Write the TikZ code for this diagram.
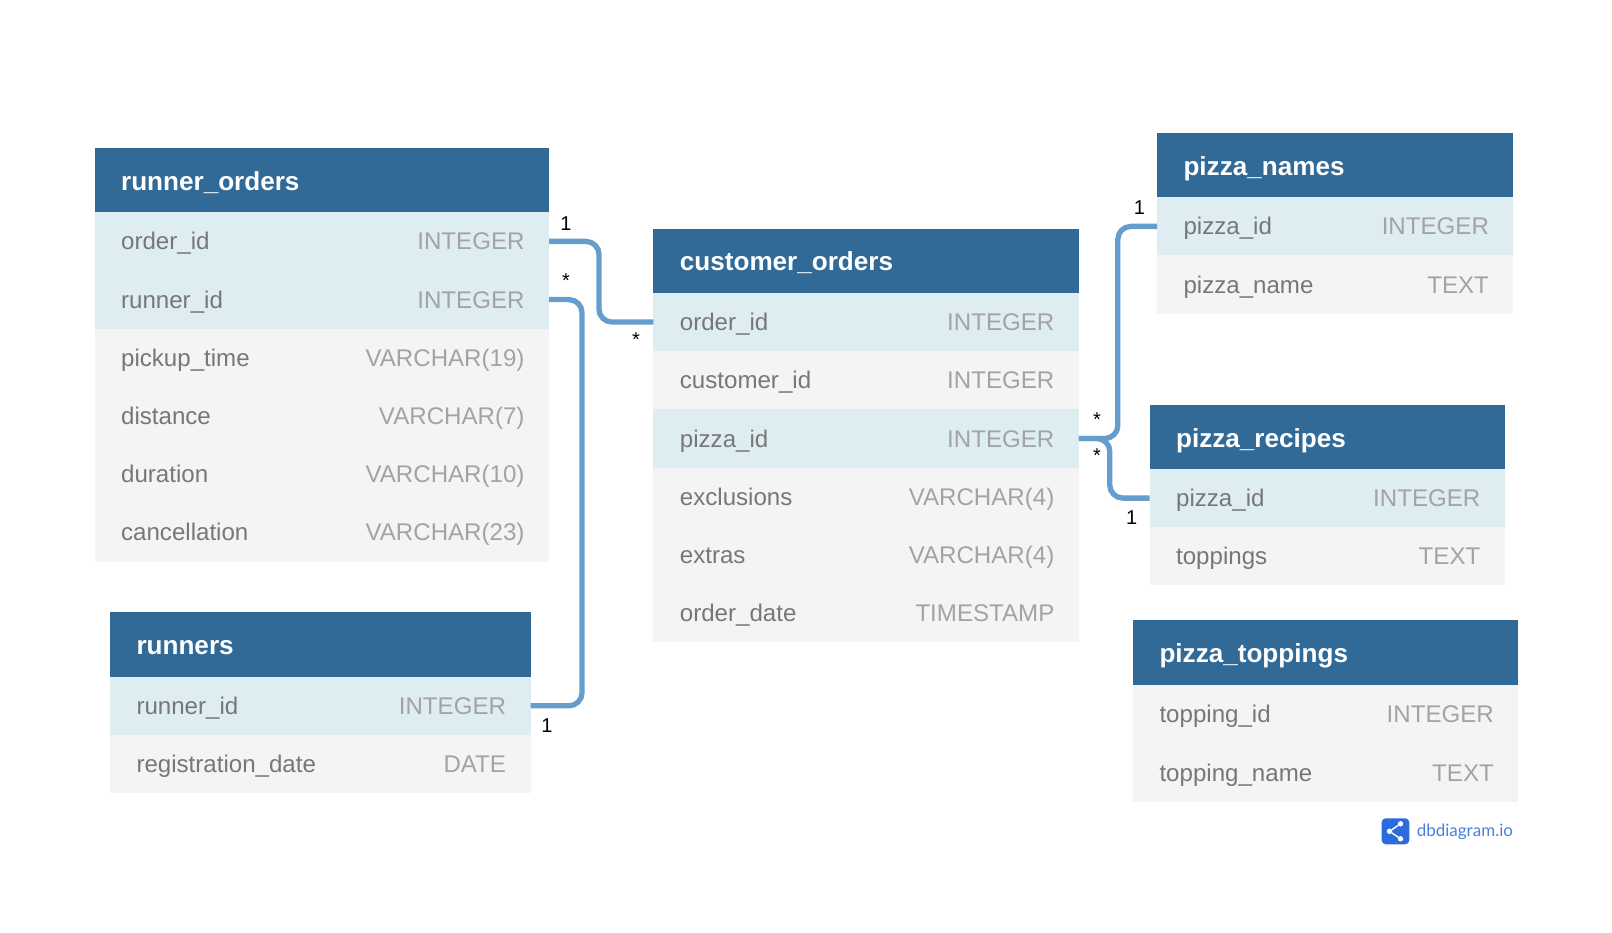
\documentclass[tikz,border=0pt]{standalone}
\usepackage{fontspec}
\setmainfont{Liberation Sans}
\newfontfamily\logofont{Lato}
\usetikzlibrary{positioning}
\definecolor{headblue}{HTML}{326A97}
\definecolor{keyblue}{HTML}{DEEDF2}
\definecolor{plaingrey}{HTML}{F4F4F4}
\definecolor{namegrey}{HTML}{777777}
\definecolor{typegrey}{HTML}{A3A3A3}
\definecolor{linkblue}{HTML}{659DCD}
\definecolor{logoblue}{HTML}{2C6BDB}
\definecolor{logotext}{HTML}{4A80DC}
\begin{document}
\begin{tikzpicture}[
    x=1pt, y=-1pt,
    every node/.style={outer sep=0pt},
    tablehead/.style={anchor=north west, fill=headblue, text=white, inner xsep=24.5pt, inner ysep=0pt,
      minimum height=64pt, text height=20pt, text depth=0pt, align=left,
      execute at begin node={\hspace*{2pt}},
      font=\fontsize{26.1pt}{30pt}\selectfont\bfseries},
    tablerow/.style={below=0pt of #1, inner xsep=24.5pt, inner ysep=0pt, minimum height=58.2pt,
      text height=17pt, text depth=0pt, align=left, text=namegrey,
      execute at begin node={\hspace*{2pt}},
      font=\fontsize{24.1pt}{28pt}\selectfont},
    keyrow/.style={tablerow=#1, fill=keyblue},
    plainrow/.style={tablerow=#1, fill=plaingrey},
    reflink/.style={draw=linkblue, line width=5.3pt, rounded corners=13pt},
    card/.style={anchor=base, inner sep=0pt, font=\fontsize{20pt}{22pt}\selectfont}
  ]
  \useasboundingbox (0,0) rectangle (1612,933);

  % runner_orders table
  \begin{scope}[nodes={minimum width=454.4pt, text width=405.4pt}]
    \node[tablehead] (ro_head) at (94.6,148.3) {runner\_orders};
    \node[keyrow=ro_head] (ro_order) {order\_id\hfill\textcolor{typegrey}{INTEGER}};
    \node[keyrow=ro_order] (ro_runner) {runner\_id\hfill\textcolor{typegrey}{INTEGER}};
    \node[plainrow=ro_runner] (ro_pickup) {pickup\_time\hfill\textcolor{typegrey}{VARCHAR(19)}};
    \node[plainrow=ro_pickup] (ro_distance) {distance\hfill\textcolor{typegrey}{VARCHAR(7)}};
    \node[plainrow=ro_distance] (ro_duration) {duration\hfill\textcolor{typegrey}{VARCHAR(10)}};
    \node[plainrow=ro_duration] (ro_cancel) {cancellation\hfill\textcolor{typegrey}{VARCHAR(23)}};
  \end{scope}

  % runners table
  \begin{scope}[nodes={minimum width=420.5pt, text width=371.5pt}]
    \node[tablehead, minimum height=65pt] (ru_head) at (110,611.7) {runners};
    \node[keyrow=ru_head] (ru_runner) {runner\_id\hfill\textcolor{typegrey}{INTEGER}};
    \node[plainrow=ru_runner] (ru_date) {registration\_date\hfill\textcolor{typegrey}{DATE}};
  \end{scope}

  % customer_orders table
  \begin{scope}[nodes={minimum width=425.4pt, text width=376.4pt}]
    \node[tablehead] (co_head) at (653.4,229) {customer\_orders};
    \node[keyrow=co_head] (co_order) {order\_id\hfill\textcolor{typegrey}{INTEGER}};
    \node[plainrow=co_order] (co_customer) {customer\_id\hfill\textcolor{typegrey}{INTEGER}};
    \node[keyrow=co_customer] (co_pizza) {pizza\_id\hfill\textcolor{typegrey}{INTEGER}};
    \node[plainrow=co_pizza] (co_exclusions) {exclusions\hfill\textcolor{typegrey}{VARCHAR(4)}};
    \node[plainrow=co_exclusions] (co_extras) {extras\hfill\textcolor{typegrey}{VARCHAR(4)}};
    \node[plainrow=co_extras] (co_date) {order\_date\hfill\textcolor{typegrey}{TIMESTAMP}};
  \end{scope}

  % pizza_names table
  \begin{scope}[nodes={minimum width=356.4pt, text width=307.4pt}]
    \node[tablehead] (pn_head) at (1157,133.3) {pizza\_names};
    \node[keyrow=pn_head] (pn_pizza) {pizza\_id\hfill\textcolor{typegrey}{INTEGER}};
    \node[plainrow=pn_pizza] (pn_name) {pizza\_name\hfill\textcolor{typegrey}{TEXT}};
  \end{scope}

  % pizza_recipes table
  \begin{scope}[nodes={minimum width=355.2pt, text width=306.2pt}]
    \node[tablehead] (pr_head) at (1149.6,405) {pizza\_recipes};
    \node[keyrow=pr_head] (pr_pizza) {pizza\_id\hfill\textcolor{typegrey}{INTEGER}};
    \node[plainrow=pr_pizza] (pr_toppings) {toppings\hfill\textcolor{typegrey}{TEXT}};
  \end{scope}

  % pizza_toppings table
  \begin{scope}[nodes={minimum width=385.3pt, text width=336.3pt}]
    \node[tablehead, minimum height=65pt] (pt_head) at (1133,620.3) {pizza\_toppings};
    \node[plainrow=pt_head] (pt_id) {topping\_id\hfill\textcolor{typegrey}{INTEGER}};
    \node[plainrow=pt_id] (pt_name) {topping\_name\hfill\textcolor{typegrey}{TEXT}};
  \end{scope}

  % Connectors
  \draw[reflink] (ro_order.east) -- ++(50,0) |- (co_order.west);
  \draw[reflink] (ro_runner.east) -- ++(33,0) |- (ru_runner.east);
  \draw[reflink] (co_pizza.east) -- ++(39,0) |- (pn_pizza.west);
  \draw[reflink] (co_pizza.east) -- ++(31,0) |- (pr_pizza.west);

  % Cardinalities
  \node[card] (c_ro_one) at (566,231) {1};
  \node[card] (c_ro_star) at (566,288) {*};
  \node[card] (c_co_star) at (636,346) {*};
  \node[card] (c_ru_one) at (547,732) {1};
  \node[card] (c_pn_one) at (1139.5,215) {1};
  \node[card] (c_pn_star) at (1097,426) {*};
  \node[card] (c_pr_star) at (1097,462) {*};
  \node[card] (c_pr_one) at (1131.7,524) {1};

  % Logo
  \node[fill=logoblue, rounded corners=4pt, minimum width=27.6pt, minimum height=26pt, inner sep=0pt] (logo_box) at (1395.5,831.3) {};
  \node[fill=white, circle, minimum size=5.4pt, inner sep=0pt] (logo_a) at ([xshift=-6pt]logo_box.center) {};
  \node[fill=white, circle, minimum size=5.4pt, inner sep=0pt] (logo_b) at ([xshift=5pt,yshift=7.5pt]logo_box.center) {};
  \node[fill=white, circle, minimum size=5.4pt, inner sep=0pt] (logo_c) at ([xshift=5pt,yshift=-7.5pt]logo_box.center) {};
  \draw[white, line width=1.4pt] (logo_b) -- (logo_a) -- (logo_c);
  \node[right=7.5pt of logo_box, inner sep=0pt, text=logotext, font=\logofont\fontsize{17pt}{20pt}\selectfont] (logo_text) {dbdiagram.io};
\end{tikzpicture}
\end{document}
